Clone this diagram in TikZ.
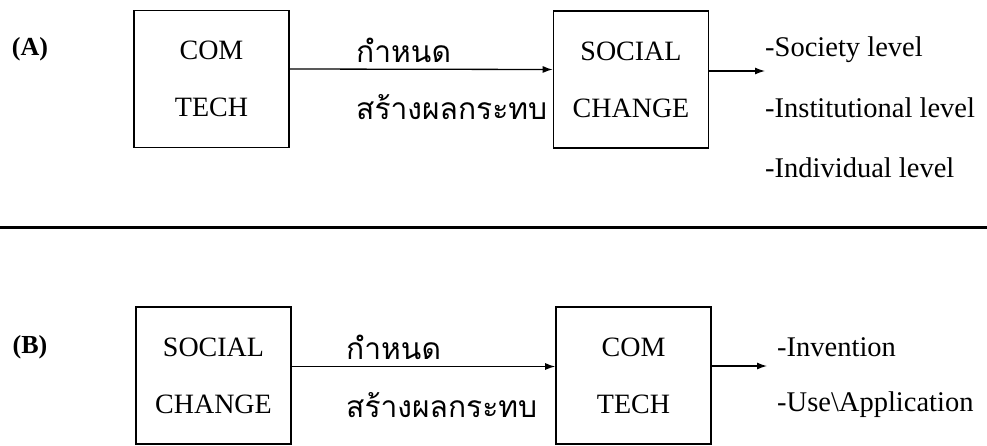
\documentclass[tikz,border=0pt]{standalone}
\usepackage{fontspec}
\setmainfont{Liberation Serif}
\newfontfamily\thaifont[Script=Thai]{Loma}
\usepackage{tikz}
\usetikzlibrary{arrows.meta}
\tikzstyle{Box}=[draw,line width=1.6pt,inner sep=0pt,align=center,
minimum width=155pt,minimum height=137pt,font=\fontsize{28}{57}\selectfont]
\tikzstyle{Edge}=[draw,line width=1.3pt,-{Latex[length=10pt,width=7pt]}]
\tikzstyle{NodeTH}=[anchor=west,inner sep=0pt,font=\thaifont\fontsize{30}{34}\selectfont]
\tikzstyle{NodeLV}=[anchor=west,inner sep=0pt,font=\fontsize{28.5}{32}\selectfont]
\tikzstyle{NodeTag}=[inner sep=0pt,font=\bfseries\fontsize{26}{30}\selectfont]

\begin{document}
\begin{tikzpicture}[x=1pt,y=-1pt]
        \useasboundingbox (0,0) rectangle (987,445);
        % (A)
        \node[NodeTag](a)at(30,49){(A)};
        \node[Box](a1)at(211.5,79){COM\\TECH};
        \node[Box](a2)at(631,79.5){SOCIAL\\CHANGE};
        \node[NodeTH](a3)at(356,50){กำหนด};
        \node[NodeTH](a4)at(356,107){สร้างผลกระทบ};
        \coordinate(a5)at(765,71);
        \node[NodeLV](a6)at(765,50){-Society level};
        \node[NodeLV](a7)at(765,108){-Institutional level};
        \node[NodeLV](a8)at(765,168){-Individual level};
        \draw[Edge]([yshift=10pt]a1.east)--([yshift=10pt]a2.west);
        \draw[Edge]([yshift=8.5pt]a2.east)--(a5);
        % separator
        \draw[line width=3pt](0,227)--(987,227);
        % (B)
        \node[NodeTag](b)at(30,347){(B)};
        \node[Box](b1)at(213.5,375.5){SOCIAL\\CHANGE};
        \node[Box](b2)at(633.5,375.5){COM\\TECH};
        \node[NodeTH](b3)at(346,347){กำหนด};
        \node[NodeTH](b4)at(346,405){สร้างผลกระทบ};
        \coordinate(b5)at(767,366);
        \node[NodeLV](b6)at(777,347){-Invention};
        \node[NodeLV](b7)at(777,405){-Use\textbackslash Application};
        \draw[Edge]([yshift=9pt]b1.east)--([yshift=9pt]b2.west);
        \draw[Edge]([yshift=9.5pt]b2.east)--(b5);
    \end{tikzpicture}
\end{document}
